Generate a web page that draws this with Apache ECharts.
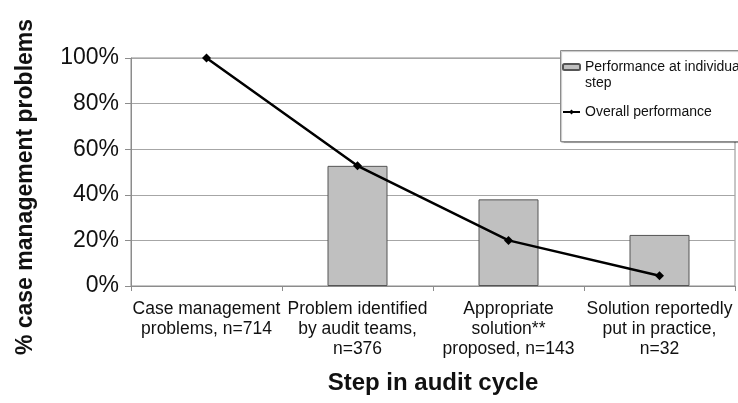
<!DOCTYPE html>
<html>
<head>
<meta charset="utf-8">
<script src="https://cdn.jsdelivr.net/npm/echarts@6/dist/echarts.min.js"></script>
<style>
  html, body { margin: 0; padding: 0; background: #fff; }
  #main { width: 738px; height: 403px; }
</style>
</head>
<body>
<div id="main"></div>
<script>
var steps = [
    'Case management\nproblems, n=714',
    'Problem identified\nby audit teams,\nn=376',
    'Appropriate\nsolution**\nproposed, n=143',
    'Solution reportedly\nput in practice,\nn=32'
];
// performance at each step (% of the previous step)
var stepPerf = ['-', 52.7, 38.0, 22.4];
// overall performance (% of all problems)
var overallPerf = [100, 52.7, 20.0, 4.5];
var yTicks = [0, 20, 40, 60, 80, 100];

var chart = echarts.init(document.getElementById('main'));

var font = 'Liberation Sans, Arial, sans-serif';
var gridColor = '#a6a6a6';

var option = {
    animation: false,
    textStyle: { fontFamily: font },
    grid: {
        show: true,
        left: 131,
        right: 3,
        top: 58,
        bottom: 117,
        outerBoundsMode: 'none',
        borderColor: '#8c8c8c',
        borderWidth: 1
    },
    legend: {
        left: 562,
        top: 43,
        orient: 'vertical',
        itemWidth: 17,
        itemHeight: 6,
        itemGap: 13,
        padding: 0,
        z: 20,
        textStyle: { fontSize: 14, color: '#111', fontFamily: font, lineHeight: 16 },
        // blank first line so the first text line sits level with the icon
        formatter: function (name) {
            return name === 'Performance at individual step' ? '\nPerformance at individual\nstep' : name;
        },
        data: ['Performance at individual step', 'Overall performance']
    },
    graphic: [{
        type: 'rect',
        z: 15,
        shape: { x: 560.5, y: 50.5, width: 190, height: 91 },
        style: { fill: '#fff', stroke: '#8c8c8c', lineWidth: 1,
                 shadowColor: 'rgba(0,0,0,0.25)', shadowOffsetX: 1, shadowOffsetY: 1, shadowBlur: 1 }
    }],
    xAxis: {
        type: 'category',
        data: steps,
        name: 'Step in audit cycle',
        nameLocation: 'middle',
        nameGap: 85,
        nameMoveOverlap: false,
        nameTextStyle: { fontSize: 24, fontWeight: 'bold', color: '#111', fontFamily: font },
        axisLine: { lineStyle: { color: '#8c8c8c' } },
        axisTick: { show: true, length: 5, lineStyle: { color: '#8c8c8c' } },
        axisLabel: { fontSize: 17.5, lineHeight: 20, color: '#111', margin: 13, interval: 0 }
    },
    yAxis: {
        type: 'value',
        min: 0,
        max: 100,
        interval: 20,
        name: '% case management problems',
        nameLocation: 'middle',
        nameGap: 94,
        nameTextStyle: { fontSize: 23, fontWeight: 'bold', color: '#111', fontFamily: font, padding: [0, 30, 0, 0] },
        axisLine: { show: true, lineStyle: { color: '#8c8c8c' } },
        axisTick: { show: true, length: 6, lineStyle: { color: '#8c8c8c' } },
        axisLabel: {
            fontSize: 23, color: '#111', margin: 12,
            formatter: function (v) { return yTicks.indexOf(v) >= 0 ? v + '%' : ''; }
        },
        splitLine: { lineStyle: { color: gridColor, width: 1 } }
    },
    series: [
        {
            name: 'Performance at individual step',
            type: 'bar',
            barWidth: 60,
            itemStyle: { color: '#c0c0c0', borderColor: '#555', borderWidth: 1 },
            data: stepPerf
        },
        {
            name: 'Overall performance',
            type: 'line',
            symbol: 'diamond',
            symbolSize: 9,
            itemStyle: { color: '#000' },
            lineStyle: { color: '#000', width: 2.5 },
            data: overallPerf
        }
    ]
};

chart.setOption(option);
</script>
</body>
</html>
